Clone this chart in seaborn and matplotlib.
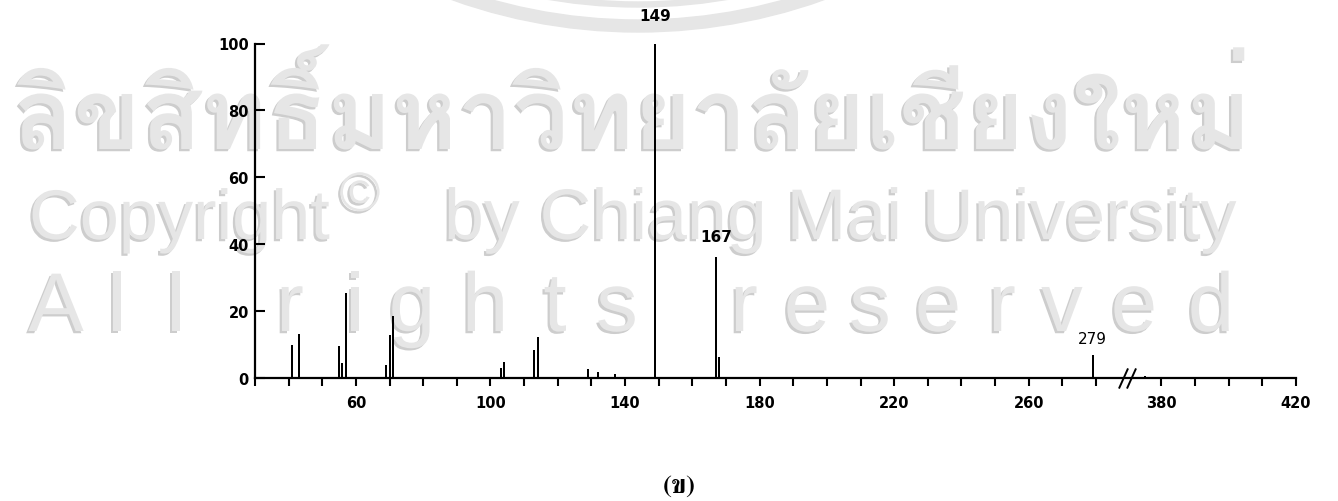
import numpy as np
import pandas as pd
import matplotlib
matplotlib.use("Agg")
import matplotlib.pyplot as plt
import matplotlib.patheffects as pe
from matplotlib import font_manager, transforms
from matplotlib.patches import Annulus
import seaborn as sns

# ---------------- data ----------------
mz = [41, 43, 55, 56, 57, 69, 70, 71, 103, 104, 113, 114,
      129, 132, 137, 149, 167, 168, 279, 375]
rel_abundance = [10.0, 13.3, 9.6, 4.4, 25.4, 4.0, 13.0, 18.6, 2.9, 4.8, 8.5, 12.2,
                 2.6, 1.9, 1.1, 100.0, 36.2, 6.3, 6.9, 0.5]
labelled_peaks = [149, 167, 279]
x_ticks_left = list(range(30, 281, 10))
x_ticks_right = [380, 390, 400, 410, 420]
x_labelled = [60, 100, 140, 180, 220, 260, 380, 420]
y_ticks = [0, 20, 40, 60, 80, 100]
caption = "(ข)"
wm_thai = "ลิขสิทธิ์มหาวิทยาลัยเชียงใหม่"
wm_copy = "Copyright"
wm_symbol = "©"
wm_by = "by Chiang Mai University"
wm_rights = list("Allrightsreserved")

# ---------------- fonts ----------------
sns.set_style("ticks")


def find_font(ch, skip=("CJK",), prefer_words=()):
    from matplotlib.ft2font import FT2Font
    found = []
    for f in font_manager.fontManager.ttflist:
        if any(s in f.name for s in skip):
            continue
        try:
            if ord(ch) in FT2Font(f.fname).get_charmap():
                found.append(f)
        except Exception:
            pass
    if not found:
        return None
    for w in prefer_words:
        for f in found:
            if w.lower() in (f.name + f.fname).lower():
                return f.name
    return found[0].name


thai_font = find_font("ข", prefer_words=("Bold", "Noto Sans Thai", "Loma", "Garuda"))
thai_serif = find_font("ข", prefer_words=("Serif", "Norasi", "Kinnari", "Bold"))
thai_list = [thai_font] if thai_font else []
thai_serif_list = [thai_serif] if thai_serif else []

plt.rcParams["font.family"] = ["DejaVu Sans"]

# ---------------- broken x scale ----------------
BREAK_LO, SHIFT = 292.0, 80.55
BREAK_HI = BREAK_LO + SHIFT


def fwd(x):
    x = np.asarray(x, dtype=float)
    return np.where(x <= BREAK_LO, x, np.where(x >= BREAK_HI, x - SHIFT, BREAK_LO))


def inv(y):
    y = np.asarray(y, dtype=float)
    return np.where(y <= BREAK_LO, y, y + SHIFT)


W, H = 1338, 502
fig = plt.figure(figsize=(W / 100, H / 100), dpi=100)
fig.patch.set_facecolor("white")

# ---------------- watermark (behind the chart) ----------------
wm_color = "#e6e6e6"
shadow = [pe.SimplePatchShadow(offset=(-1.6, -1.6), shadow_rgbFace="#cdcdcd", alpha=1.0),
          pe.Normal()]
renderer = fig.canvas.get_renderer()


def fit_text(x0, x1, ybase, s, family, base=60, **kw):
    t = fig.text(x0 / W, 1 - ybase / H, s, fontsize=base, family=family,
                 color=wm_color, ha="left", va="baseline", zorder=0,
                 path_effects=shadow, **kw)
    bb = t.get_window_extent(renderer=renderer)
    t.set_fontsize(base * (x1 - x0) / bb.width)
    bb = t.get_window_extent(renderer=renderer)
    t.set_x((x0 + (x0 - bb.x0)) / W)
    return t


fit_text(13, 1251, 150, wm_thai, thai_list + ["DejaVu Sans"], fontweight="bold")
fit_text(29, 330, 240, wm_copy, ["Liberation Sans", "DejaVu Sans"])
fig.text(360 / W, 1 - 212 / H, wm_symbol, fontsize=40, family=["Liberation Sans"],
         color=wm_color, ha="center", va="baseline", zorder=0, path_effects=shadow)
fit_text(444, 1237, 240, wm_by, ["Liberation Sans", "DejaVu Sans"])
rights_x = [56, 117, 176, 290, 355, 412, 485, 555, 617, 744, 807, 870, 938, 1002, 1062, 1134, 1211]
for ch, cx in zip(wm_rights, rights_x):
    fig.text(cx / W, 1 - 332 / H, ch, fontsize=60, family=["Liberation Sans Narrow", "Liberation Sans"],
             color=wm_color, ha="center", va="baseline", zorder=0, path_effects=shadow)

# arcs of the logo at the top
px = transforms.IdentityTransform()
fig.patches.append(Annulus((638, H + 519), 552, 12, transform=px, color=wm_color, zorder=0))
fig.patches.append(Annulus((638, H + 519), 527, 5, transform=px, color=wm_color, zorder=0))

# ---------------- chart ----------------
ax = fig.add_axes([255 / W, (H - 379) / H, (1296 - 255) / W, (379 - 44.5) / H])
ax.set_zorder(2)
ax.patch.set_alpha(0)

df = pd.DataFrame({"mz": mz, "abundance": rel_abundance})
sns.barplot(data=df, x="mz", y="abundance", native_scale=True, width=0.6,
            color="black", saturation=1, linewidth=0, errorbar=None, ax=ax)

ax.set_xscale("function", functions=(fwd, inv))
ax.set_xlim(30, 420)
ax.set_ylim(0, 100)

xt = x_ticks_left + x_ticks_right
ax.set_xticks(xt)
ax.set_xticklabels([str(t) if t in x_labelled else "" for t in xt])
ax.set_yticks(y_ticks)
ax.set_yticklabels([str(t) for t in y_ticks])
ax.tick_params(axis="x", direction="out", length=6, width=1.5, pad=6.5, labelsize=10.5, colors="black")
ax.tick_params(axis="y", direction="in", length=7.5, width=1.5, pad=4.5, labelsize=10.5, colors="black")
for lbl in ax.get_xticklabels() + ax.get_yticklabels():
    lbl.set_fontweight("bold")

for side in ("top", "right"):
    ax.spines[side].set_visible(False)
for side in ("left", "bottom"):
    ax.spines[side].set_linewidth(1.6)
    ax.spines[side].set_color("black")
ax.set_xlabel("")
ax.set_ylabel("")

# break marks "//"
ax.plot([288.0, 290.4], [0, 0], ls="none", marker=[(-0.45, -1), (0.45, 1)],
        markersize=14.5, mew=1.4, mfc="none", mec="black", clip_on=False, zorder=5)

# peak labels
label_offset = {149: 20, 167: 15, 279: 11.5}
label_weight = {149: "bold", 167: "bold", 279: "medium"}
for m in labelled_peaks:
    h = rel_abundance[mz.index(m)]
    ax.annotate(str(m), xy=(m, h), xytext=(0, label_offset[m]), textcoords="offset points",
                ha="center", va="center", fontsize=11, fontweight=label_weight[m],
                color="black", annotation_clip=False)

# caption
fig.text(679 / W, 1 - 487 / H, caption, fontsize=19, fontweight="bold",
         family=thai_serif_list + ["Liberation Serif", "DejaVu Serif"],
         ha="center", va="center", color="black")

fig.savefig("out.png", dpi=100, facecolor="white")
